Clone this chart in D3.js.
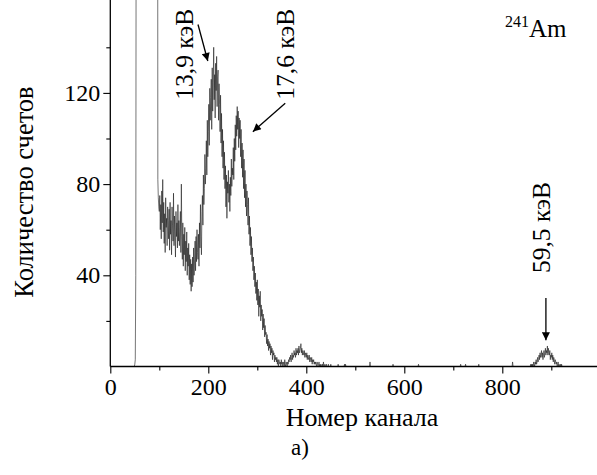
<!DOCTYPE html>
<html><head><meta charset="utf-8">
<script src="https://cdn.jsdelivr.net/npm/d3@7"></script>
<style>html,body{margin:0;padding:0;background:#fff;}svg{display:block;}</style>
</head><body>
<script>
// counts per channel, starting at channel 0
const counts = [
0,0,0,0,0,0,0,0,0,0,0,0,0,0,0,0,0,0,0,0,
0,0,0,0,0,0,0,0,0,0,0,0,0,0,0,0,0,0,0,0,
0,0,0,0,0,0,0,0,0,0,1,3,40,260,500,500,500,500,500,500,
500,500,500,500,500,500,500,500,500,500,500,500,500,500,500,500,500,500,500,500,
500,500,500,500,500,500,500,500,500,500,500,500,500,500,500,500,500,82,74,70,
68,75,60,71,56,77,63,82,59,72,54,67,50,74,61,65,53,70,64,56,
69,51,72,58,64,49,70,62,55,76,53,66,59,48,68,57,63,52,71,55,
64,53,61,68,50,80,57,47,63,44,58,49,61,42,55,46,59,40,52,44,
54,38,49,36,47,33,45,35,48,37,52,40,47,55,42,57,46,60,50,47,
58,44,63,52,71,57,49,68,75,62,84,71,78,93,80,87,99,84,108,92,
103,115,97,122,108,118,126,104,131,112,123,140,117,128,109,133,121,136,114,127,
130,108,124,115,103,119,98,111,92,104,87,99,82,94,78,88,70,84,65,81,
76,86,72,80,68,83,75,91,79,87,84,96,82,100,90,106,95,110,101,114,
104,112,96,109,100,108,92,104,87,98,83,95,78,91,74,86,70,80,66,77,
71,62,74,58,66,53,61,49,57,46,52,42,48,38,44,35,41,32,37,29,
38,27,34,22,31,26,33,20,27,22,25,16,23,17,21,13,18,14,15,10,
14,9,12,7,11,8,10,5,9,6,8,3,7,5,6,2,5,3,4,2,
4,1,3,0,3,2,1,2,0,3,1,2,0,1,2,0,3,1,0,2,
1,0,2,1,3,2,4,3,5,2,4,6,3,5,4,7,5,6,4,8,
5,7,6,8,5,9,6,7,8,10,6,8,5,7,6,5,7,4,6,5,
4,6,3,5,4,3,5,2,4,3,2,4,1,3,2,3,1,2,1,2,
1,0,2,1,0,1,2,0,1,0,1,0,0,1,0,2,0,0,1,0,
0,1,0,0,0,1,0,0,0,0,1,0,0,0,0,0,0,0,0,0,
0,0,0,0,0,1,0,0,0,0,0,0,0,0,0,0,0,0,1,0,
1,0,0,0,0,0,0,0,0,0,0,0,0,0,0,0,0,0,0,0,
0,0,0,0,0,0,0,0,0,0,0,0,0,0,0,0,0,0,0,0,
0,0,0,0,0,0,0,0,0,0,2,0,0,0,0,0,0,0,0,0,
0,0,0,0,0,0,0,0,0,0,0,0,0,0,0,0,0,0,0,0,
0,0,0,0,0,0,0,0,0,0,0,0,0,0,0,0,0,1,0,0,
0,0,0,0,0,0,0,0,0,0,0,0,0,0,0,0,0,0,0,0,
0,0,0,0,0,0,0,0,0,0,0,0,0,0,0,0,0,0,0,0,
0,0,0,0,0,0,0,0,0,1,0,0,0,0,0,0,0,0,0,0,
0,0,0,0,0,0,0,0,0,0,0,0,0,0,0,0,0,0,0,0,
0,0,0,0,0,0,0,0,0,0,0,0,0,0,0,0,0,0,0,0,
0,0,0,0,0,0,0,0,0,0,0,0,0,0,0,0,0,0,0,0,
0,0,0,0,0,0,0,0,0,0,0,0,0,0,0,1,0,0,0,0,
0,0,0,0,0,1,0,0,0,0,0,0,0,0,0,0,0,0,0,0,
0,0,0,0,0,0,0,0,0,0,0,0,1,0,0,0,0,0,0,0,
0,0,0,0,0,0,0,0,0,0,0,0,0,0,0,0,0,0,0,0,
0,0,0,0,0,0,0,0,0,0,0,0,0,0,0,0,0,0,0,0,
0,0,0,0,0,0,0,0,0,0,0,0,0,0,0,0,0,0,0,0,
0,2,0,0,0,0,0,0,0,0,0,0,0,0,0,0,0,0,0,0,
0,0,0,0,0,0,0,0,0,0,0,0,0,0,0,0,0,0,1,0,
1,0,1,0,2,1,0,2,1,3,1,2,4,2,3,5,3,6,4,5,
7,4,6,3,5,7,4,6,8,5,7,6,9,5,8,6,5,7,3,5,
4,6,3,5,2,4,3,1,3,2,1,2,0,1,2,0,1,0,0,1,
0,1,0,0,0,0,0,0,0,0,0,0,0,0,0,0,0,0,0,0,
0,0,0,0,0,0,0,0,0,0,0,0,0,0,0,0,0,0,0,0
];
const xMajorTicks = [0, 200, 400, 600, 800];
const xMinorTicks = [100, 300, 500, 700, 900];
const yMajorTicks = [40, 80, 120];
const yMinorTicks = [20, 60, 100, 140];
const xTitle = "Номер канала";
const yTitle = "Количество счетов";
const caption = "а)";
const isotopeMass = "241";
const isotopeName = "Am";
// peak annotations: label, text anchor (channel, count), arrow tail, arrow tip
const peakLabels = ["13,9 кэВ", "17,6 кэВ", "59,5 кэВ"];
const labelPos = [[168, 117], [375, 117], [898, 41]];
const arrowFrom = [[179, 150], [357, 115.5], [889, 30]];
const arrowTo = [[199, 134], [291, 103], [889, 11.5]];

const FONT = "Liberation Serif";
const W = 597, H = 475;
const x = d3.scaleLinear().domain([0, 1000]).range([110.3, 600.3]);
const y = d3.scaleLinear().domain([0, 160]).range([366.5, 1.7]);

const svg = d3.select("body").append("svg").attr("width", W).attr("height", H)
  .attr("font-family", FONT);
svg.append("defs").append("clipPath").attr("id", "clip")
  .append("rect").attr("x", x(0)).attr("y", 0).attr("width", W - x(0)).attr("height", y(0));
svg.select("defs").append("marker").attr("id", "ah").attr("viewBox", "0 0 10 10")
  .attr("refX", 10).attr("refY", 5).attr("markerWidth", 10).attr("markerHeight", 8)
  .attr("markerUnits", "userSpaceOnUse").attr("orient", "auto")
  .append("path").attr("d", "M0,0 L10,5 L0,10 Z").attr("fill", "#000");

const line = d3.line().x((d, i) => x(i)).y(d => y(d));
svg.append("path").datum(counts).attr("clip-path", "url(#clip)")
  .attr("d", line).attr("fill", "none").attr("stroke", "#1a1a1a").attr("stroke-width", 0.6);

// axes
const fs = 24;
const gx = svg.append("g").attr("transform", `translate(0,${y(0)})`);
gx.call(d3.axisBottom(x).tickValues(xMajorTicks).tickSize(7).tickPadding(4).tickFormat(d3.format("d")));
gx.append("g").call(d3.axisBottom(x).tickValues(xMinorTicks).tickSize(4).tickFormat(""));
gx.selectAll(".domain").remove();
gx.append("line").attr("x1", x(0)).attr("x2", W).attr("stroke", "#000").attr("stroke-width", 1.3);
gx.selectAll(".tick line").attr("stroke", "#000").attr("stroke-width", 1.1);
gx.attr("font-family", FONT);
gx.selectAll(".tick text").attr("font-size", fs).attr("font-family", FONT).attr("fill", "#000");

const gy = svg.append("g").attr("transform", `translate(${x(0)},0)`);
gy.call(d3.axisLeft(y).tickValues(yMajorTicks).tickSize(7).tickPadding(3).tickFormat(d3.format("d")));
gy.append("g").call(d3.axisLeft(y).tickValues(yMinorTicks).tickSize(4).tickFormat(""));
gy.selectAll(".domain").remove();
gy.append("line").attr("y1", 0).attr("y2", y(0)).attr("stroke", "#000").attr("stroke-width", 1.3);
gy.selectAll(".tick line").attr("stroke", "#000").attr("stroke-width", 1.1);
gy.attr("font-family", FONT);
gy.selectAll(".tick text").attr("font-size", fs).attr("font-family", FONT).attr("fill", "#000");

svg.append("text").attr("x", 362).attr("y", 426).attr("text-anchor", "middle")
  .attr("font-family", FONT).attr("font-size", 26).text(xTitle);
svg.append("text").attr("transform", "translate(33,192) rotate(-90)").attr("text-anchor", "middle")
  .attr("font-family", FONT).attr("font-size", 26.5).text(yTitle);
svg.append("text").attr("x", 300).attr("y", 455).attr("text-anchor", "middle")
  .attr("font-family", FONT).attr("font-size", 23).text(caption);

const iso = svg.append("text").attr("x", 505).attr("y", 37).attr("font-family", FONT);
iso.append("tspan").attr("font-size", 16).attr("dy", -10).text(isotopeMass);
iso.append("tspan").attr("font-size", 25).attr("dy", 10).text(isotopeName);

peakLabels.forEach((t, i) => {
  svg.append("text")
    .attr("transform", `translate(${x(labelPos[i][0])},${y(labelPos[i][1])}) rotate(-90)`)
    .attr("font-family", FONT).attr("font-size", 25.5).text(t);
  svg.append("line")
    .attr("x1", x(arrowFrom[i][0])).attr("y1", y(arrowFrom[i][1]))
    .attr("x2", x(arrowTo[i][0])).attr("y2", y(arrowTo[i][1]))
    .attr("stroke", "#000").attr("stroke-width", 1.3).attr("marker-end", "url(#ah)");
});
</script>
</body></html>
